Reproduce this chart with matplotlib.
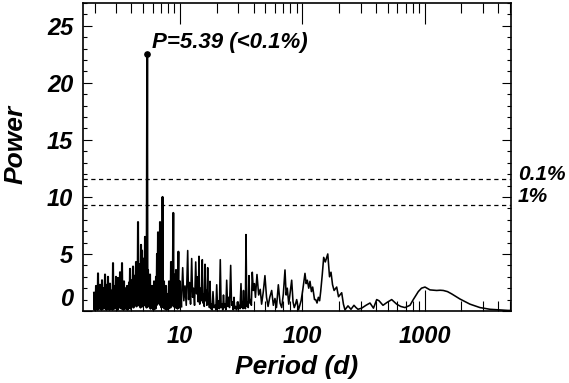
import numpy as np
import matplotlib
matplotlib.use('Agg')
import matplotlib.pyplot as plt
from matplotlib.ticker import MultipleLocator, LogLocator, NullFormatter

# periodogram, short periods (dense part)
dense_period = [1.981, 2.000, 2.018, 2.037, 2.057, 2.076, 2.096, 2.116, 2.136, 2.156,
                2.176, 2.197, 2.218, 2.239, 2.260, 2.281, 2.303, 2.325, 2.347, 2.369,
                2.391, 2.414, 2.437, 2.460, 2.483, 2.506, 2.530, 2.554, 2.578, 2.602,
                2.627, 2.652, 2.677, 2.702, 2.728, 2.754, 2.780, 2.806, 2.833, 2.860,
                2.887, 2.914, 2.942, 2.970, 2.998, 3.026, 3.055, 3.084, 3.113, 3.142,
                3.172, 3.202, 3.232, 3.263, 3.294, 3.325, 3.356, 3.388, 3.420, 3.452,
                3.485, 3.518, 3.551, 3.585, 3.619, 3.653, 3.688, 3.723, 3.758, 3.793,
                3.829, 3.865, 3.902, 3.939, 3.976, 4.014, 4.052, 4.090, 4.129, 4.168,
                4.207, 4.247, 4.287, 4.328, 4.369, 4.410, 4.452, 4.494, 4.536, 4.579,
                4.623, 4.666, 4.710, 4.755, 4.800, 4.845, 4.891, 4.937, 4.984, 5.031,
                5.079, 5.127, 5.175, 5.224, 5.273, 5.330, 5.390, 5.425, 5.476, 5.528,
                5.580, 5.633, 5.686, 5.740, 5.794, 5.849, 5.904, 5.960, 6.017, 6.074,
                6.131, 6.189, 6.247, 6.306, 6.366, 6.426, 6.487, 6.548, 6.610, 6.673,
                6.736, 6.800, 6.864, 6.929, 6.994, 7.060, 7.127, 7.170, 7.200, 7.260,
                7.400, 7.470, 7.541, 7.612, 7.684, 7.757, 7.830, 7.904, 7.979, 8.055,
                8.131, 8.208, 8.285, 8.364, 8.443, 8.523, 8.603, 8.700, 8.810, 8.870,
                8.933, 9.018, 9.103, 9.189, 9.276, 9.363, 9.451, 9.541, 9.700, 9.760,
                9.814, 9.907, 10.00, 10.25]
dense_power = [1.6, 0.1, 1.4, 0.2, 2.2, 0.3, 1.7, 0.1, 3.3, 0.4,
               1.8, 0.2, 2.3, 0.5, 1.7, 0.1, 2.7, 0.3, 1.8, 0.2,
               2.0, 0.6, 3.2, 0.2, 1.7, 0.1, 2.3, 0.4, 3.0, 0.3,
               1.7, 0.1, 2.4, 0.5, 1.8, 0.2, 1.6, 0.1, 4.2, 0.3,
               1.8, 0.2, 2.2, 0.6, 3.0, 0.2, 1.8, 0.1, 2.9, 0.4,
               2.0, 0.3, 3.4, 0.5, 2.1, 0.2, 4.2, 0.4, 2.0, 0.1,
               2.6, 0.3, 1.8, 0.2, 2.0, 0.6, 2.2, 0.1, 2.0, 0.3,
               2.5, 0.5, 3.7, 0.2, 2.3, 0.4, 2.7, 0.7, 3.9, 0.3,
               2.4, 0.5, 3.1, 0.8, 4.3, 0.4, 2.8, 0.6, 7.8, 0.5,
               3.4, 0.9, 4.1, 0.3, 5.8, 0.7, 5.3, 0.4, 3.0, 0.8,
               4.6, 0.5, 6.5, 0.6, 3.9, 0.3, 22.5, 0.6, 3.6, 0.4,
               2.2, 0.7, 3.2, 0.2, 2.0, 0.5, 2.2, 0.3, 1.6, 0.1,
               2.6, 0.4, 1.8, 0.2, 3.0, 0.5, 5.0, 0.9, 6.9, 0.7,
               3.5, 0.6, 7.8, 0.5, 2.4, 0.3, 3.0, 0.8, 10.0, 0.4,
               2.6, 0.2, 1.8, 0.6, 2.2, 0.1, 1.2, 0.3, 1.5, 0.2,
               2.6, 0.4, 2.0, 0.3, 4.3, 0.5, 3.0, 0.6, 8.6, 0.4,
               3.2, 0.7, 2.4, 0.3, 3.6, 0.5, 2.2, 0.2, 5.2, 0.6,
               2.0, 0.3, 2.6, 0.4]

# 10 - 225 d
mid_period = [10.52, 10.75, 10.99, 11.25, 11.56, 11.75, 11.96, 12.20, 12.46, 12.68,
              12.90, 13.15, 13.44, 13.68, 13.91, 14.10, 14.30, 14.50, 14.71, 14.95,
              15.22, 15.40, 15.57, 15.80, 16.01, 16.20, 16.41, 16.60, 16.84, 17.05,
              17.26, 17.40, 17.59, 17.85, 18.09, 18.35, 18.61, 18.95, 19.33, 19.65,
              19.96, 20.30, 20.64, 21.00, 21.35, 21.70, 22.05, 22.35, 22.68, 23.00,
              23.33, 23.70, 24.09, 24.50, 24.92, 25.40, 25.97, 26.40, 26.87, 27.25,
              27.64, 28.00, 28.43, 29.00, 29.52, 29.95, 30.37, 30.95, 31.53, 32.00,
              32.43, 32.75, 33.05, 33.45, 33.87, 34.25, 34.65, 35.15, 35.64, 36.15,
              36.66, 37.20, 37.71, 38.35, 39.00, 39.80, 40.60, 41.40, 42.60, 44.00,
              45.30, 46.50, 48.00, 49.50, 51.00, 52.50, 54.20, 56.20, 58.00, 59.80,
              61.50, 63.70, 65.80, 67.90, 70.00, 72.20, 73.80, 75.40, 77.50, 80.00,
              81.90, 84.00, 86.00, 88.00, 90.00, 93.10, 97.80, 100.8, 105.2, 107.6,
              109.9, 112.9, 115.6, 118.8, 121.6, 125.9, 128.7, 132.0, 135.4, 138.6,
              141.4, 145.7, 149.6, 154.2, 161.6, 167.0, 171.7, 176.8, 182.0, 191.1,
              197.8, 210.0, 217.0]
mid_power = [3.8, 0.9, 2.2, 0.5, 5.3, 1.0, 2.5, 0.6, 4.6, 1.2,
             2.0, 0.5, 4.3, 1.5, 3.0, 0.8, 4.8, 0.6, 2.0, 0.9,
             4.5, 0.7, 1.5, 0.4, 4.1, 0.9, 1.8, 0.5, 3.8, 0.6,
             1.2, 0.3, 2.6, 0.2, 0.6, 0.1, 1.7, 0.3, 0.5, 0.1,
             2.3, 0.2, 0.9, 0.2, 4.5, 0.3, 0.6, 0.1, 1.4, 0.3,
             0.6, 0.1, 2.7, 0.4, 1.2, 0.3, 4.0, 0.5, 0.8, 0.1,
             1.2, 0.2, 0.4, 0.1, 0.8, 0.2, 0.5, 0.2, 2.4, 0.3,
             0.8, 0.2, 1.8, 0.3, 0.6, 0.2, 6.7, 0.4, 0.8, 0.3,
             3.1, 0.7, 1.0, 0.5, 3.4, 1.8, 2.4, 1.2, 3.2, 1.4,
             1.9, 0.6, 1.7, 3.1, 1.2, 0.4, 1.2, 1.8, 0.5, 1.1,
             0.3, 2.3, 0.7, 0.3, 1.5, 3.6, 1.4, 2.0, 0.6, 1.8,
             2.7, 0.8, 0.3, 0.6, 1.0, 0.1, 0.9, 1.8, 3.3, 2.4,
             2.7, 2.0, 2.6, 1.7, 2.1, 1.0, 1.0, 0.7, 1.2, 0.9,
             1.7, 3.2, 4.7, 4.3, 5.0, 3.0, 3.4, 2.3, 1.8, 2.1,
             1.25, 1.6, 0.6]

# long periods, the smooth tail
long_period = [223.4, 236.4, 250.1, 264.6, 275.0, 285.4, 305.9, 331.8, 357.7, 382.0,
               405.9, 424.0, 457.0, 492.7, 538.3, 591.5, 637.8, 691.5, 759.7, 808.4,
               888.3, 943.4, 1008, 1066, 1107, 1180, 1256, 1340, 1422, 1540,
               1666, 1948, 2351, 2838, 3426, 4005, 4808, 5050]
long_power = [0.1, 0.45, 0.15, 0.5, 0.3, 0.15, 0.25, 0.5, 0.7, 0.25,
              1.0, 0.9, 0.5, 0.75, 1.0, 0.6, 0.4, 0.3, 0.5, 1.0,
              1.7, 2.0, 2.1, 1.95, 1.85, 1.82, 1.8, 1.82, 1.8, 1.7,
              1.5, 1.05, 0.6, 0.3, 0.15, 0.1, 0.05, 0.05]

peak_period = 5.39
peak_power = 22.5
peak_text = 'P=5.39 (<0.1%)'
fap_levels = [11.6, 9.33]
fap_labels = ['0.1%', '1%']

plt.rcParams['font.family'] = ['Liberation Sans', 'DejaVu Sans']
plt.rcParams['font.weight'] = 'bold'
plt.rcParams['font.style'] = 'italic'
plt.rcParams['axes.labelweight'] = 'bold'

fig = plt.figure(figsize=(5.69, 3.83), dpi=100)
ax = fig.add_axes([83 / 569, 1 - 311 / 383, 428 / 569, 308 / 383])

# dense part drawn a bit heavier so the forest of peaks fills in like the original
ax.plot(dense_period, dense_power, color='black', lw=1.5)
ax.plot(dense_period[-1:] + mid_period + long_period,
        dense_power[-1:] + mid_power + long_power, color='black', lw=1.15)
ax.plot([peak_period], [peak_power], 'o', color='black', ms=3.8)
ax.annotate(peak_text, xy=(peak_period, peak_power), xytext=(3.6, 4.6),
            textcoords='offset points', ha='left', va='baseline', fontsize=16)

offs = [2.7, 5.5]
for lev, lab, dy in zip(fap_levels, fap_labels, offs):
    ax.axhline(lev, color='black', lw=0.9, ls=(0, (3.4, 2.8)))
    ax.annotate(lab, xy=(1, lev), xycoords=('axes fraction', 'data'),
                xytext=(5, dy), textcoords='offset points',
                ha='left', va='center', fontsize=15)

ax.set_xscale('log')
ax.set_xlim(1.61, 5090)
ax.set_ylim(0, 27)
ax.set_xticks([10, 100, 1000], labels=['10', '100', '1000'])
ax.xaxis.set_minor_locator(LogLocator(base=10, subs=np.arange(2, 10)))
ax.xaxis.set_minor_formatter(NullFormatter())
ax.set_yticks([0, 5, 10, 15, 20, 25])
ax.yaxis.set_minor_locator(MultipleLocator(1))

ax.tick_params(which='both', direction='in', top=True, right=True, labelsize=17)
ax.tick_params(axis='x', which='major', length=15, width=0.8, pad=10)
ax.tick_params(axis='x', which='minor', length=7.2, width=0.8)
ax.tick_params(axis='y', which='major', length=6.3, width=0.8, pad=7)
ax.tick_params(axis='y', which='minor', length=3.1, width=0.8)
for s in ax.spines.values():
    s.set_linewidth(1.2)

ax.get_yticklabels()[0].set_verticalalignment('bottom')

ax.set_xlabel('Period (d)', fontsize=19, fontweight='bold', va='center')
ax.xaxis.set_label_coords(0.5, -0.182)
ax.set_ylabel('Power', fontsize=19, fontweight='bold', va='center')
ax.yaxis.set_label_coords(-0.157, 0.54)

fig.savefig('out.png', dpi=100)
